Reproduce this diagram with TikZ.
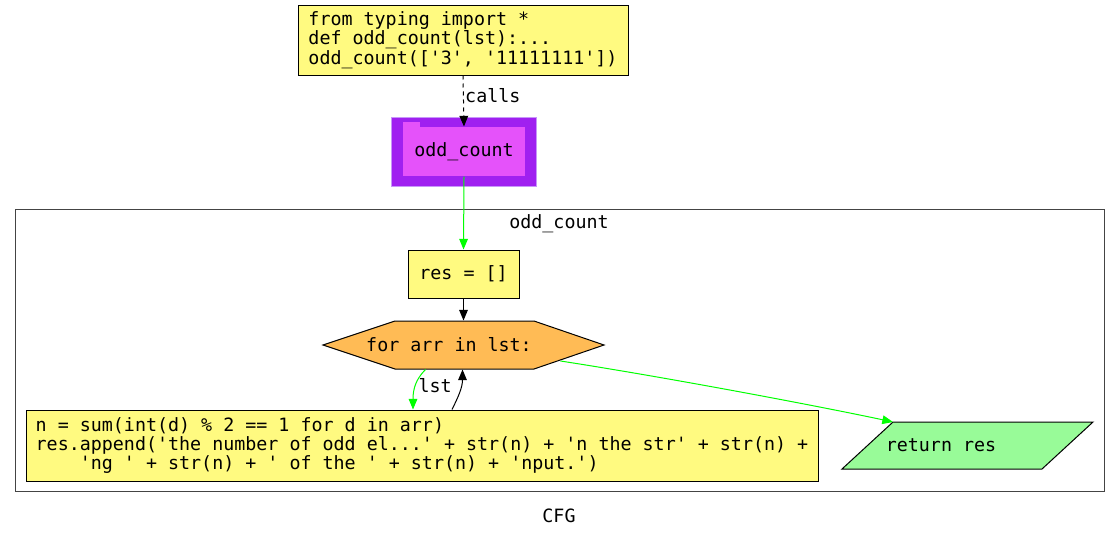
\documentclass[tikz,border=0pt]{standalone}
\usepackage{fontspec}
\setmonofont{DejaVu Sans Mono}
\usetikzlibrary{arrows.meta,calc}

\tikzset{every picture/.style={line width=0.75pt}}
\tikzset{
  every node/.style={font=\ttfamily\fontsize{13.75}{14.6}\selectfont},
  codebox/.style={draw, fill={rgb, 255:red, 255; green, 250; blue, 128}, align=left, inner sep=0pt},
  edge/.style={-{Triangle[length=8pt,width=6.5pt]}},
  greenedge/.style={edge, color={rgb, 255:red, 0; green, 255; blue, 0}},
  cluster/.style={draw={rgb, 255:red, 68; green, 68; blue, 68}},
}

\begin{document}
\begin{tikzpicture}[x=0.75pt,y=0.75pt,yscale=-1,xscale=1]
    \useasboundingbox (0,0) rectangle (1120,539);

    %Shape: Cluster
    \draw [cluster] (15,209) rectangle (1104,491);
    % Text Node
    \node (clusterlabel) at (559,224) {odd\_count};

    % Text Node
    \node [codebox, minimum width=247.5pt, minimum height=52.5pt] (src) at (463,40) {from typing import *\\def odd\_count(lst):...\\odd\_count(['3', '11111111'])};

    %Shape: Folder
    \node [fill={rgb, 255:red, 160; green, 32; blue, 240}, draw={rgb, 255:red, 200; green, 150; blue, 250}, line width=0.5pt, minimum width=108.75pt, minimum height=51.75pt] (fn) at (463.5,151.5) {};
    \fill [color={rgb, 255:red, 229; green, 82; blue, 250}] (403,122) rectangle (420,127);
    \node [fill={rgb, 255:red, 229; green, 82; blue, 250}, inner sep=0pt, minimum width=91.5pt, minimum height=36.75pt] (fninner) at (464,151.5) {odd\_count};

    % Text Node
    \node [codebox, minimum width=83.25pt, minimum height=36pt] (res) at (463.5,274) {res = []};

    %Shape: Hexagon
    \draw [fill={rgb, 255:red, 255; green, 187; blue, 85}] (323,345) -- (395,321) -- (534,321) -- (604,345) -- (534,369) -- (395,369) -- cycle;
    \node [inner sep=0pt, minimum width=210.75pt, minimum height=36pt] (loop) at (463.5,345) {};
    \node (looptext) at (449,345) {for arr in lst:};

    % Text Node
    \node [codebox, minimum width=594pt, minimum height=53.25pt] (body) at (422,445.5) {n = sum(int(d) \% 2 == 1 for d in arr)\\res.append('the number of odd el...' + str(n) + 'n the str' + str(n) +\\\hphantom{xxxx}'ng ' + str(n) + ' of the ' + str(n) + 'nput.')};

    %Shape: Parallelogram
    \draw [fill={rgb, 255:red, 152; green, 251; blue, 152}] (842,469) -- (893,422) -- (1093,422) -- (1042,469) -- cycle;
    \coordinate (retcorner) at (893,422);
    \node (ret) at (941,445) {return res};

    % Edges
    \draw [edge, dashed] (src.south) -- node [pos=0.4, anchor=west, inner sep=1pt] {calls} (fninner.north);
    \draw [greenedge] (fninner.south) -- (res.north);
    \draw [edge] (res.south) -- (loop.north);
    \draw [greenedge] ($(loop.south)+(-38,0)$) .. controls +(-10,10) and +(0,-20) .. node [pos=0.5, anchor=west, inner sep=2pt, text=black] {lst} ($(body.north)+(-9,0)$);
    \draw [edge] ($(body.north)+(30,0)$) .. controls +(6,-12) and +(0,18) .. ($(loop.south)+(-1,0)$);
    \draw [greenedge] ($(loop.center)+(97,16)$) .. controls +(110,17) and +(-70,-15) .. (retcorner);

    % Text Node
    \node (cfg) at (559,516) {CFG};
\end{tikzpicture}
\end{document}
